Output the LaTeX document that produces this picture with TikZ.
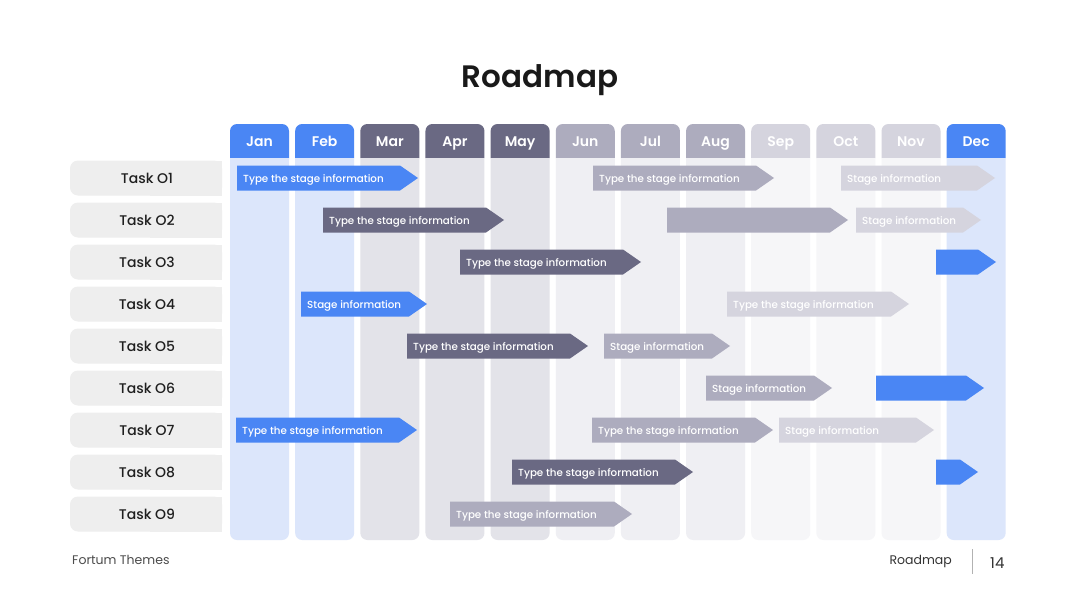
\documentclass[tikz,border=0pt]{standalone}
\usepackage{fontspec}
\setmainfont{Poppins}
\newfontfamily\popmed{Poppins Medium}
\newfontfamily\popsemi{Poppins SemiBold}
\definecolor{cblue}{HTML}{4A86F4}
\definecolor{cdark}{HTML}{6A6983}
\definecolor{cmid}{HTML}{ADACBE}
\definecolor{clight}{HTML}{D5D4DE}
\definecolor{bblue}{HTML}{DCE6FB}
\definecolor{bdark}{HTML}{E3E3E9}
\definecolor{bmid}{HTML}{EFEFF3}
\definecolor{blight}{HTML}{F6F6F8}
\definecolor{taskbg}{HTML}{EEEEEE}
\tikzset{
  monthtext/.style={text=white,font=\fontsize{14}{16}\popsemi,anchor=base,inner sep=0pt},
  tasktext/.style={text=black!88,font=\fontsize{14}{16}\popmed,anchor=base,inner sep=0pt},
  stagetext/.style={text=white,font=\fontsize{10.3}{11}\popmed,anchor=base west,inner sep=0pt},
}
\newcommand\monthcol[5]{% index, name, headcolor, bodycolor, label
  \pgfmathsetmacro\xl{230+65.15*#1}
  \pgfmathsetmacro\xr{\xl+59}
  \fill[#3] (\xl,158) [rounded corners=7] -- (\xl,124) -- (\xr,124) [sharp corners] -- (\xr,158) -- cycle;
  \fill[#4] (\xl,158) [rounded corners=7] -- (\xl,540) -- (\xr,540) [sharp corners] -- (\xr,158) -- cycle;
  \node[monthtext] (#2) at ({(\xl+\xr)/2},146) {#5};
}
\newcommand\taskrow[3]{% name, y, label
  \fill[taskbg,rounded corners=8] (70,#2-17.5) rectangle (222,#2+17.5);
  \fill[taskbg] (150,#2-17.5) rectangle (222,#2+17.5);
  \node[tasktext] (#1) at (147,#2+5.3) {#3};
}
\newcommand\stagebar[6]{% name, x1, x2, y, color, text
  \fill[#5] (#2,#4-12.5) -- (#3-18,#4-12.5) -- (#3,#4) -- (#3-18,#4+12.5) -- (#2,#4+12.5) -- cycle;
  \node[stagetext] (#1) at (#2+6,#4+4) {#6};
}
\begin{document}
\begin{tikzpicture}[x=1pt,y=-1pt]
\useasboundingbox[fill=white] (0,0) rectangle (1080,608);
\node[font=\fontsize{31}{36}\popsemi,text=black!90,anchor=base,inner sep=0pt] (title) at (540,87) {Roadmap};
\monthcol{0}{jan}{cblue}{bblue}{Jan}
\monthcol{1}{feb}{cblue}{bblue}{Feb}
\monthcol{2}{mar}{cdark}{bdark}{Mar}
\monthcol{3}{apr}{cdark}{bdark}{Apr}
\monthcol{4}{may}{cdark}{bdark}{May}
\monthcol{5}{jun}{cmid}{bmid}{Jun}
\monthcol{6}{jul}{cmid}{bmid}{Jul}
\monthcol{7}{aug}{cmid}{bmid}{Aug}
\monthcol{8}{sep}{clight}{blight}{Sep}
\monthcol{9}{oct}{clight}{blight}{Oct}
\monthcol{10}{nov}{clight}{blight}{Nov}
\monthcol{11}{dec}{cblue}{bblue}{Dec}
\taskrow{t1}{178}{Task O1}
\taskrow{t2}{220}{Task O2}
\taskrow{t3}{262}{Task O3}
\taskrow{t4}{304}{Task O4}
\taskrow{t5}{346}{Task O5}
\taskrow{t6}{388}{Task O6}
\taskrow{t7}{430}{Task O7}
\taskrow{t8}{472}{Task O8}
\taskrow{t9}{514}{Task O9}
% row 1
\stagebar{s1a}{237}{418}{178}{cblue}{Type the stage information}
\stagebar{s1b}{593}{774}{178}{cmid}{Type the stage information}
\stagebar{s1c}{841}{995}{178}{clight}{Stage information}
% row 2
\stagebar{s2a}{323}{504}{220}{cdark}{Type the stage information}
\stagebar{s2b}{667}{848}{220}{cmid}{}
\stagebar{s2c}{856}{981}{220}{clight}{Stage information}
% row 3
\stagebar{s3a}{460}{641}{262}{cdark}{Type the stage information}
\stagebar{s3b}{936}{996}{262}{cblue}{}
% row 4
\stagebar{s4a}{301}{427}{304}{cblue}{Stage information}
\stagebar{s4b}{727}{909}{304}{clight}{Type the stage information}
% row 5
\stagebar{s5a}{407}{588}{346}{cdark}{Type the stage information}
\stagebar{s5b}{604}{730}{346}{cmid}{Stage information}
% row 6
\stagebar{s6a}{706}{832}{388}{cmid}{Stage information}
\stagebar{s6b}{876}{984}{388}{cblue}{}
% row 7
\stagebar{s7a}{236}{417}{430}{cblue}{Type the stage information}
\stagebar{s7b}{592}{773}{430}{cmid}{Type the stage information}
\stagebar{s7c}{779}{934}{430}{clight}{Stage information}
% row 8
\stagebar{s8a}{512}{693}{472}{cdark}{Type the stage information}
\stagebar{s8b}{936}{978}{472}{cblue}{}
% row 9
\stagebar{s9a}{450}{632}{514}{cmid}{Type the stage information}
% footer
\node[anchor=base west,text=black!70,font=\fontsize{12.5}{14}\selectfont,inner sep=0pt] (brand) at (72,564) {Fortum Themes};
\node[anchor=base east,text=black!80,font=\fontsize{12.5}{14}\selectfont,inner sep=0pt] (foot) at (952,564) {Roadmap};
\coordinate (sepTop) at (972,549);
\coordinate (sepBot) at (972,574);
\draw[black!30,line width=0.8pt] (sepTop) -- (sepBot);
\node[anchor=base west,text=black!80,font=\fontsize{15}{17}\selectfont,inner sep=0pt] (page) at (990,568) {14};
\end{tikzpicture}
\end{document}
